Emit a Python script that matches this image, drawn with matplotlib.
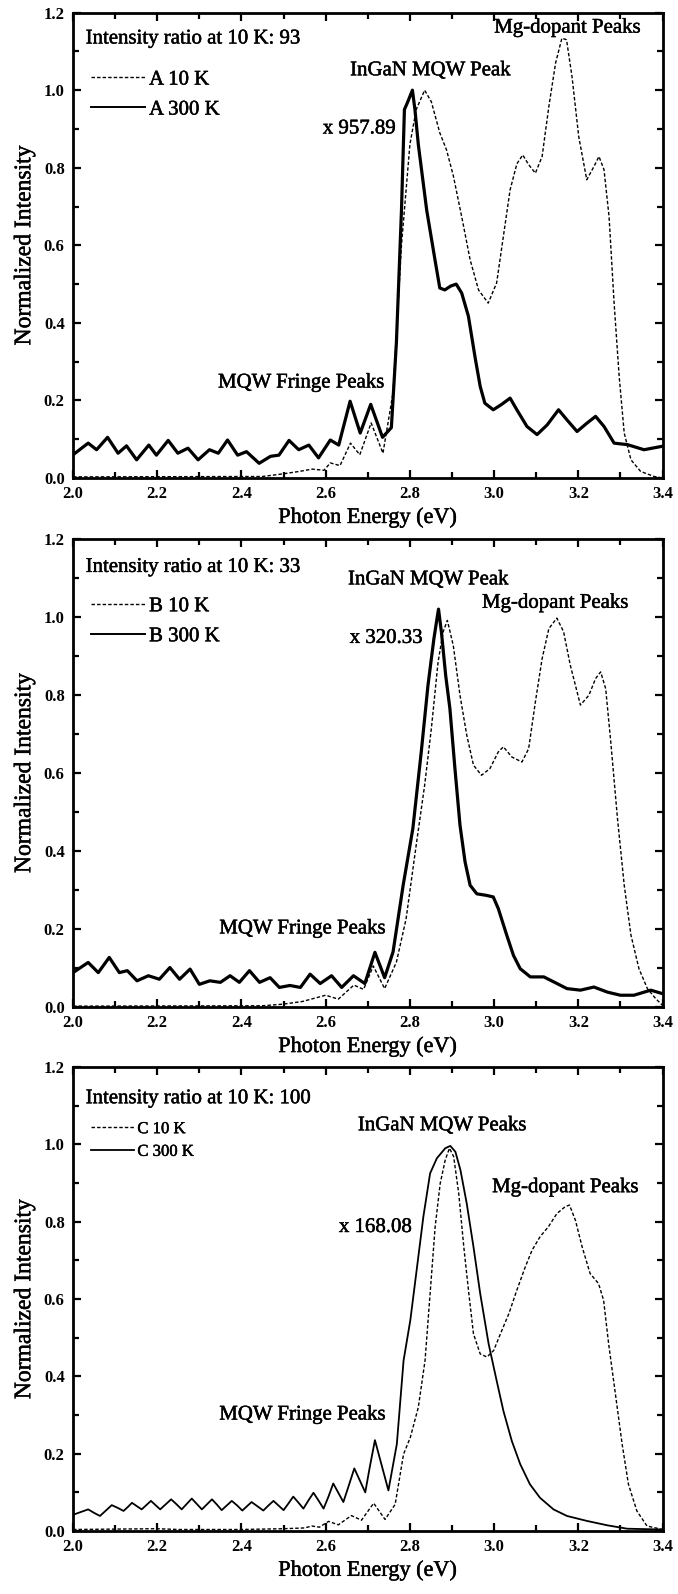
import matplotlib
matplotlib.use('Agg')

import matplotlib.pyplot as plt
import matplotlib.patheffects as pe
from matplotlib.ticker import MultipleLocator, FormatStrFormatter

plt.rcParams['font.family'] = ['Liberation Serif', 'DejaVu Serif']

# ---- panel A ----
a10_e = [2.0, 2.45, 2.5, 2.537, 2.568, 2.596, 2.611, 2.634, 2.659, 2.681, 2.708, 2.736,
         2.76, 2.78, 2.8, 2.815, 2.835, 2.851, 2.871, 2.887, 2.903, 2.923, 2.943, 2.963,
         2.986, 3.006, 3.022, 3.038, 3.054, 3.068, 3.082, 3.098, 3.114, 3.13, 3.146, 3.161,
         3.172, 3.185, 3.201, 3.22, 3.237, 3.249, 3.261, 3.273, 3.285, 3.297, 3.309, 3.325,
         3.348, 3.38, 3.4]
a10_i = [0.003, 0.004, 0.011, 0.017, 0.023, 0.02, 0.039, 0.032, 0.09, 0.06, 0.142, 0.064,
         0.22, 0.6, 0.86, 0.95, 1.0, 0.97, 0.89, 0.846, 0.78, 0.674, 0.563, 0.485,
         0.451, 0.503, 0.623, 0.743, 0.81, 0.833, 0.808, 0.786, 0.829, 0.958, 1.07, 1.134,
         1.13, 1.035, 0.88, 0.769, 0.803, 0.829, 0.795, 0.674, 0.451, 0.262, 0.116, 0.047,
         0.017, 0.004, 0.0]
a300_e = [2.0, 2.036, 2.056, 2.082, 2.107, 2.127, 2.151, 2.18, 2.198, 2.226, 2.249, 2.273,
          2.297, 2.324, 2.345, 2.367, 2.391, 2.412, 2.442, 2.469, 2.489, 2.513, 2.536, 2.56,
          2.583, 2.611, 2.631, 2.658, 2.682, 2.707, 2.735, 2.756, 2.768, 2.78, 2.787, 2.795,
          2.806, 2.812, 2.82, 2.84, 2.86, 2.871, 2.883, 2.897, 2.91, 2.923, 2.939, 2.955,
          2.967, 2.978, 2.998, 3.018, 3.038, 3.054, 3.078, 3.102, 3.126, 3.153, 3.173, 3.197,
          3.221, 3.241, 3.261, 3.285, 3.317, 3.356, 3.4]
a300_i = [0.06, 0.09, 0.073, 0.105, 0.064, 0.083, 0.047, 0.085, 0.059, 0.097, 0.064, 0.077,
          0.047, 0.073, 0.064, 0.098, 0.059, 0.068, 0.038, 0.056, 0.059, 0.097, 0.073, 0.085,
          0.052, 0.098, 0.085, 0.198, 0.116, 0.19, 0.105, 0.13, 0.35, 0.69, 0.95, 0.97,
          1.0, 0.95, 0.86, 0.69, 0.56, 0.49, 0.485, 0.495, 0.5, 0.477, 0.417, 0.31,
          0.236, 0.193, 0.176, 0.19, 0.206, 0.176, 0.133, 0.112, 0.137, 0.176, 0.15, 0.12,
          0.142, 0.159, 0.133, 0.09, 0.086, 0.073, 0.082]

# ---- panel B ----
b10_e = [2.0, 2.45, 2.498, 2.545, 2.6, 2.63, 2.667, 2.69, 2.713, 2.74, 2.768, 2.791, 2.815,
         2.835, 2.851, 2.867, 2.879, 2.889, 2.903, 2.919, 2.935, 2.951, 2.97, 2.99, 3.01,
         3.022, 3.042, 3.066, 3.082, 3.098, 3.114, 3.13, 3.149, 3.165, 3.181, 3.205, 3.225,
         3.241, 3.253, 3.265, 3.277, 3.293, 3.309, 3.325, 3.344, 3.364, 3.384, 3.4]
b10_i = [0.002, 0.003, 0.007, 0.014, 0.03, 0.02, 0.056, 0.045, 0.105, 0.047, 0.115, 0.226, 0.415,
         0.568, 0.714, 0.885, 0.962, 0.991, 0.927, 0.799, 0.697, 0.62, 0.594, 0.611, 0.654,
         0.667, 0.641, 0.628, 0.662, 0.782, 0.893, 0.97, 0.997, 0.962, 0.876, 0.774, 0.799,
         0.842, 0.859, 0.816, 0.68, 0.483, 0.312, 0.184, 0.098, 0.047, 0.021, 0.004]
b300_e = [2.0, 2.036, 2.06, 2.086, 2.11, 2.129, 2.152, 2.179, 2.205, 2.23, 2.253, 2.278,
          2.3, 2.325, 2.35, 2.373, 2.395, 2.419, 2.443, 2.468, 2.49, 2.515, 2.54, 2.563,
          2.587, 2.614, 2.638, 2.666, 2.693, 2.717, 2.74, 2.76, 2.784, 2.807, 2.827, 2.843,
          2.857, 2.865, 2.868, 2.875, 2.885, 2.895, 2.907, 2.919, 2.931, 2.943, 2.959, 2.982,
          2.998, 3.01, 3.03, 3.046, 3.062, 3.086, 3.118, 3.142, 3.173, 3.205, 3.237, 3.269,
          3.3, 3.332, 3.372, 3.4]
b300_i = [0.088, 0.114, 0.088, 0.127, 0.088, 0.093, 0.067, 0.08, 0.071, 0.101, 0.071, 0.097,
          0.058, 0.067, 0.063, 0.08, 0.063, 0.093, 0.063, 0.075, 0.05, 0.055, 0.05, 0.084,
          0.06, 0.08, 0.05, 0.08, 0.06, 0.14, 0.075, 0.141, 0.312, 0.457, 0.654, 0.825,
          0.944, 1.0, 1.02, 0.96, 0.85, 0.765, 0.611, 0.466, 0.372, 0.312, 0.29, 0.286,
          0.282, 0.252, 0.184, 0.132, 0.098, 0.077, 0.077, 0.064, 0.047, 0.043, 0.051, 0.038,
          0.03, 0.03, 0.043, 0.034]

# ---- panel C ----
c10_e = [2.0, 2.2, 2.25, 2.4, 2.5, 2.55, 2.567, 2.585, 2.607, 2.63, 2.661, 2.685, 2.714,
         2.741, 2.765, 2.785, 2.801, 2.82, 2.836, 2.848, 2.86, 2.872, 2.884, 2.894, 2.904,
         2.916, 2.928, 2.94, 2.951, 2.967, 2.983, 2.999, 3.015, 3.035, 3.054, 3.074, 3.09,
         3.109, 3.129, 3.149, 3.169, 3.179, 3.193, 3.209, 3.228, 3.248, 3.26, 3.272, 3.288,
         3.304, 3.319, 3.339, 3.363, 3.4]
c10_i = [0.004, 0.006, 0.004, 0.004, 0.006, 0.008, 0.013, 0.01, 0.025, 0.016, 0.04, 0.028, 0.072,
         0.03, 0.069, 0.199, 0.242, 0.32, 0.441, 0.614, 0.787, 0.899, 0.96, 0.99, 0.968,
         0.873, 0.735, 0.614, 0.51, 0.458, 0.45, 0.467, 0.51, 0.562, 0.623, 0.683, 0.726,
         0.761, 0.787, 0.821, 0.839, 0.843, 0.804, 0.735, 0.666, 0.64, 0.597, 0.484, 0.355,
         0.225, 0.121, 0.052, 0.013, 0.004]
c300_e = [2.0, 2.018, 2.036, 2.05, 2.064, 2.078, 2.092, 2.106, 2.12, 2.13, 2.14, 2.152,
          2.163, 2.174, 2.185, 2.196, 2.207, 2.22, 2.233, 2.246, 2.258, 2.27, 2.282, 2.294,
          2.306, 2.318, 2.33, 2.342, 2.353, 2.365, 2.377, 2.39, 2.402, 2.413, 2.424, 2.438,
          2.452, 2.464, 2.476, 2.488, 2.5, 2.512, 2.523, 2.535, 2.547, 2.559, 2.571, 2.583,
          2.595, 2.607, 2.618, 2.63, 2.642, 2.655, 2.668, 2.681, 2.694, 2.705, 2.717, 2.733,
          2.749, 2.769, 2.785, 2.801, 2.817, 2.832, 2.848, 2.864, 2.884, 2.896, 2.908, 2.92,
          2.935, 2.951, 2.967, 2.987, 3.006, 3.022, 3.042, 3.062, 3.085, 3.109, 3.141, 3.173,
          3.221, 3.268, 3.316, 3.4]
c300_i = [0.042, 0.049, 0.056, 0.047, 0.039, 0.053, 0.067, 0.06, 0.052, 0.062, 0.073, 0.064,
          0.056, 0.067, 0.078, 0.067, 0.056, 0.069, 0.082, 0.069, 0.056, 0.07, 0.084, 0.07,
          0.056, 0.069, 0.082, 0.068, 0.054, 0.066, 0.078, 0.066, 0.053, 0.064, 0.075, 0.064,
          0.053, 0.066, 0.078, 0.066, 0.054, 0.072, 0.089, 0.074, 0.058, 0.079, 0.099, 0.079,
          0.058, 0.09, 0.123, 0.099, 0.075, 0.118, 0.162, 0.131, 0.1, 0.167, 0.235, 0.17,
          0.105, 0.225, 0.441, 0.545, 0.683, 0.813, 0.925, 0.964, 0.99, 0.996, 0.981, 0.934,
          0.847, 0.735, 0.614, 0.484, 0.389, 0.311, 0.233, 0.173, 0.121, 0.086, 0.056, 0.039,
          0.026, 0.015, 0.006, 0.004]

x_ticks = [2.0, 2.2, 2.4, 2.6, 2.8, 3.0, 3.2, 3.4]
y_ticks = [0.0, 0.2, 0.4, 0.6, 0.8, 1.0, 1.2]

panels = [
    dict(rect=[0.1077, 0.7001, 0.8695, 0.2920], low=(a10_e, a10_i), room=(a300_e, a300_i),
         names=('A 10 K', 'A 300 K'), ratio='Intensity ratio at 10 K: 93', ratio_y=1.132,
         leg_y=1.052, leg_fs=15, leg_sp=0.5, room_lw=2.3,
         notes=[('InGaN MQW Peak', 2.85, 1.05), ('x 957.89', 2.68, 0.90),
                ('Mg-dopant Peaks', 3.175, 1.16), ('MQW Fringe Peaks', 2.543, 0.245)]),
    dict(rect=[0.1077, 0.3683, 0.8695, 0.2936], low=(b10_e, b10_i), room=(b300_e, b300_i),
         names=('B 10 K', 'B 300 K'), ratio='Intensity ratio at 10 K: 33', ratio_y=1.127,
         leg_y=1.052, leg_fs=15, leg_sp=0.5, room_lw=2.3,
         notes=[('InGaN MQW Peak', 2.845, 1.095), ('x 320.33', 2.744, 0.945),
                ('Mg-dopant Peaks', 3.146, 1.035), ('MQW Fringe Peaks', 2.546, 0.2)]),
    dict(rect=[0.1077, 0.0395, 0.8695, 0.2911], low=(c10_e, c10_i), room=(c300_e, c300_i),
         names=('C 10 K', 'C 300 K'), ratio='Intensity ratio at 10 K: 100', ratio_y=1.118,
         leg_y=1.06, leg_fs=12, leg_sp=0.4, room_lw=1.3,
         notes=[('InGaN MQW Peaks', 2.878, 1.048), ('x 168.08', 2.718, 0.785),
                ('Mg-dopant Peaks', 3.17, 0.888), ('MQW Fringe Peaks', 2.546, 0.3)]),
]

# a light stroke makes the serif text look like the darker scanned print
ink = [pe.withStroke(linewidth=0.35, foreground='black')]

fig = plt.figure(figsize=(6.78, 15.94), dpi=100)

for p in panels:
    ax = fig.add_axes(p['rect'])
    ax.plot(p['low'][0], p['low'][1], color='black', lw=1.0,
            linestyle=(0, (2.5, 1.5)), label=p['names'][0])
    ax.plot(p['room'][0], p['room'][1], color='black', lw=p['room_lw'],
            solid_joinstyle='round', label=p['names'][1])

    ax.set_xlim(2.0, 3.4)
    ax.set_ylim(0.0, 1.2)
    ax.set_xticks(x_ticks)
    ax.set_yticks(y_ticks)
    ax.xaxis.set_minor_locator(MultipleLocator(0.1))
    ax.yaxis.set_minor_locator(MultipleLocator(0.1))
    ax.xaxis.set_major_formatter(FormatStrFormatter('%.1f'))
    ax.yaxis.set_major_formatter(FormatStrFormatter('%.1f'))
    ax.tick_params(which='both', direction='in', top=True, right=True, width=1.6)
    ax.tick_params(which='major', length=6, labelsize=12, pad=6)
    ax.tick_params(which='minor', length=4)
    for lab in ax.get_xticklabels() + ax.get_yticklabels():
        lab.set_fontweight('bold')
    for sp in ax.spines.values():
        sp.set_linewidth(2.0)

    ax.set_xlabel('Photon Energy (eV)', fontsize=16, path_effects=ink)
    ax.set_ylabel('Normalized Intensity', fontsize=17, path_effects=ink)
    ax.xaxis.set_label_coords(0.5, -0.086)
    ax.xaxis.label.set_va('center')
    ax.yaxis.set_label_coords(-0.082, 0.5)
    ax.yaxis.label.set_va('center')

    ax.text(2.03, p['ratio_y'], p['ratio'], fontsize=15, ha='left', va='center',
            path_effects=ink)
    leg = ax.legend(loc='upper left', bbox_to_anchor=(0.03, p['leg_y'] / 1.2), frameon=False,
                    fontsize=p['leg_fs'], handlelength=2.6, handletextpad=0.2,
                    labelspacing=p['leg_sp'], borderpad=0, borderaxespad=0)
    for t in leg.get_texts():
        t.set_path_effects(ink)
    for h in leg.get_lines():
        h.set_linewidth(min(h.get_linewidth(), 1.4))
    for txt, xe, yi in p['notes']:
        ax.text(xe, yi, txt, fontsize=15, ha='center', va='center', path_effects=ink)

fig.savefig('out.png', dpi=100)
